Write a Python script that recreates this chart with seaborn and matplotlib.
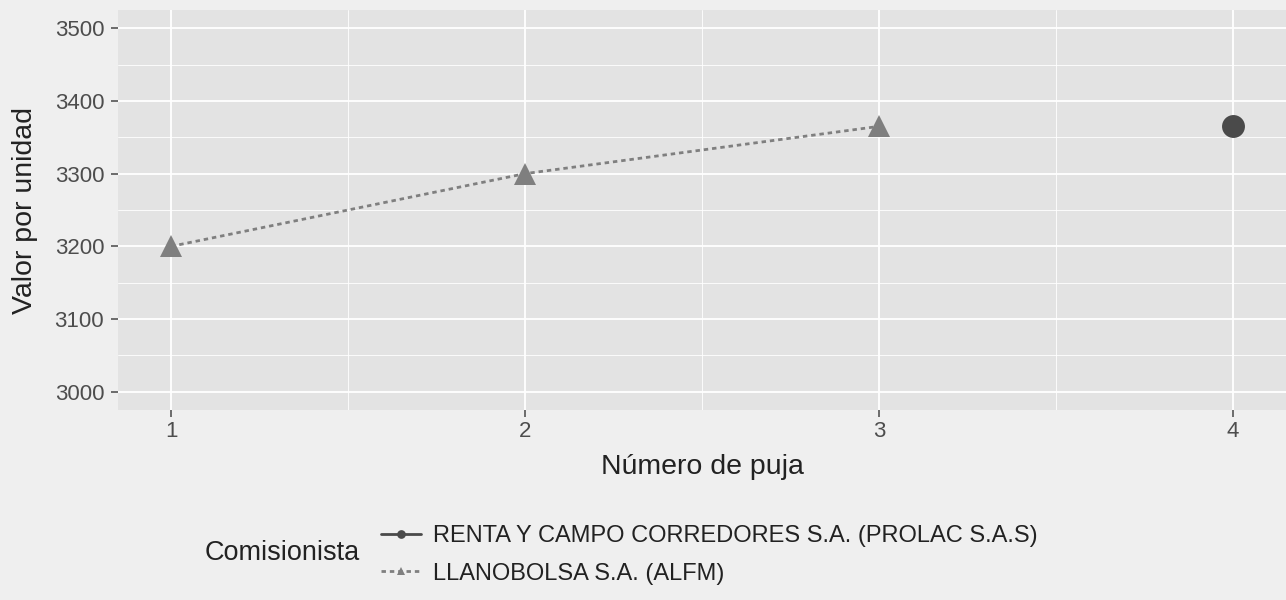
import matplotlib
matplotlib.use("Agg")
import matplotlib.pyplot as plt
import seaborn as sns
import pandas as pd

# --- Data ---
comisionistas = ["RENTA Y CAMPO CORREDORES S.A. (PROLAC S.A.S)", "LLANOBOLSA S.A. (ALFM)"]
renta_puja = [4]
renta_valor = [3365]
llano_puja = [1, 2, 3]
llano_valor = [3200, 3300, 3365]
x_ticks = [1, 2, 3, 4]
y_ticks = [3000, 3100, 3200, 3300, 3400, 3500]

df = pd.concat([
    pd.DataFrame({"puja": renta_puja, "valor": renta_valor, "Comisionista": comisionistas[0]}),
    pd.DataFrame({"puja": llano_puja, "valor": llano_valor, "Comisionista": comisionistas[1]}),
])

# --- Style ---
sns.set_theme(style="darkgrid")
plt.rcParams["font.family"] = ["Liberation Sans", "DejaVu Sans"]

bg = "#efefef"
fig = plt.figure(figsize=(12.86, 6), dpi=100, facecolor=bg)
ax = fig.add_axes([118 / 1286, 1 - 410 / 600, 1 - 118 / 1286, 400 / 600])
ax.set_facecolor("#e3e3e3")

palette = {comisionistas[0]: "#4a4a4a", comisionistas[1]: "#7f7f7f"}
sns.lineplot(data=df, x="puja", y="valor", hue="Comisionista", style="Comisionista",
             hue_order=comisionistas, style_order=comisionistas,
             palette=palette, markers={comisionistas[0]: "o", comisionistas[1]: "^"},
             dashes={comisionistas[0]: "", comisionistas[1]: (1.6, 1.4)},
             markersize=16.5, markeredgewidth=0, linewidth=2.0, ax=ax)

for ln in ax.lines:
    if ln.get_marker() == "^":
        ln.set_markersize(16)

# --- Axes ---
ax.set_xticks(x_ticks)
ax.set_yticks(y_ticks)
ax.set_xticks([1.5, 2.5, 3.5], minor=True)
ax.set_yticks([3050 + 100 * i for i in range(5)], minor=True)
ax.set_xlim(0.85, 4.15)
ax.set_ylim(2975, 3525)
ax.grid(which="major", color="white", linewidth=1.3)
ax.grid(which="minor", color="white", linewidth=0.6)
ax.tick_params(axis="both", which="major", length=5, width=1.2, color="#555555",
               labelsize=16, labelcolor="#4d4d4d", pad=3, direction="out")
ax.tick_params(axis="y", which="major", pad=5)
ax.tick_params(axis="both", which="minor", length=0)
ax.tick_params(axis="x", bottom=True)
ax.tick_params(axis="y", left=True)
for s in ax.spines.values():
    s.set_visible(False)

ax.set_xlabel("Número de puja", fontsize=20.5, color="#222222")
ax.set_ylabel("Valor por unidad", fontsize=20.5, color="#222222")
ax.xaxis.label.set_va("center")
ax.yaxis.label.set_va("center")
ax.xaxis.set_label_coords(0.5, (410 - 467) / 400)
ax.yaxis.set_label_coords((25 - 118) / 1168, 0.5)

# --- Legend (bottom, title to the left) ---
handles, labels = ax.get_legend_handles_labels()
ax.get_legend().remove()
fig.text(205 / 1286, 1 - 553 / 600, "Comisionista", fontsize=19.5, color="#222222",
         ha="left", va="center")
leg = fig.legend(handles, labels, loc="center left",
                 bbox_to_anchor=(360 / 1286, 1 - 555 / 600), frameon=False,
                 fontsize=17, handlelength=1.7, handletextpad=0.5, labelspacing=0.65,
                 markerscale=0.38)
for t in leg.get_texts():
    t.set_color("#222222")

fig.savefig("out.png", dpi=100, facecolor=bg)
